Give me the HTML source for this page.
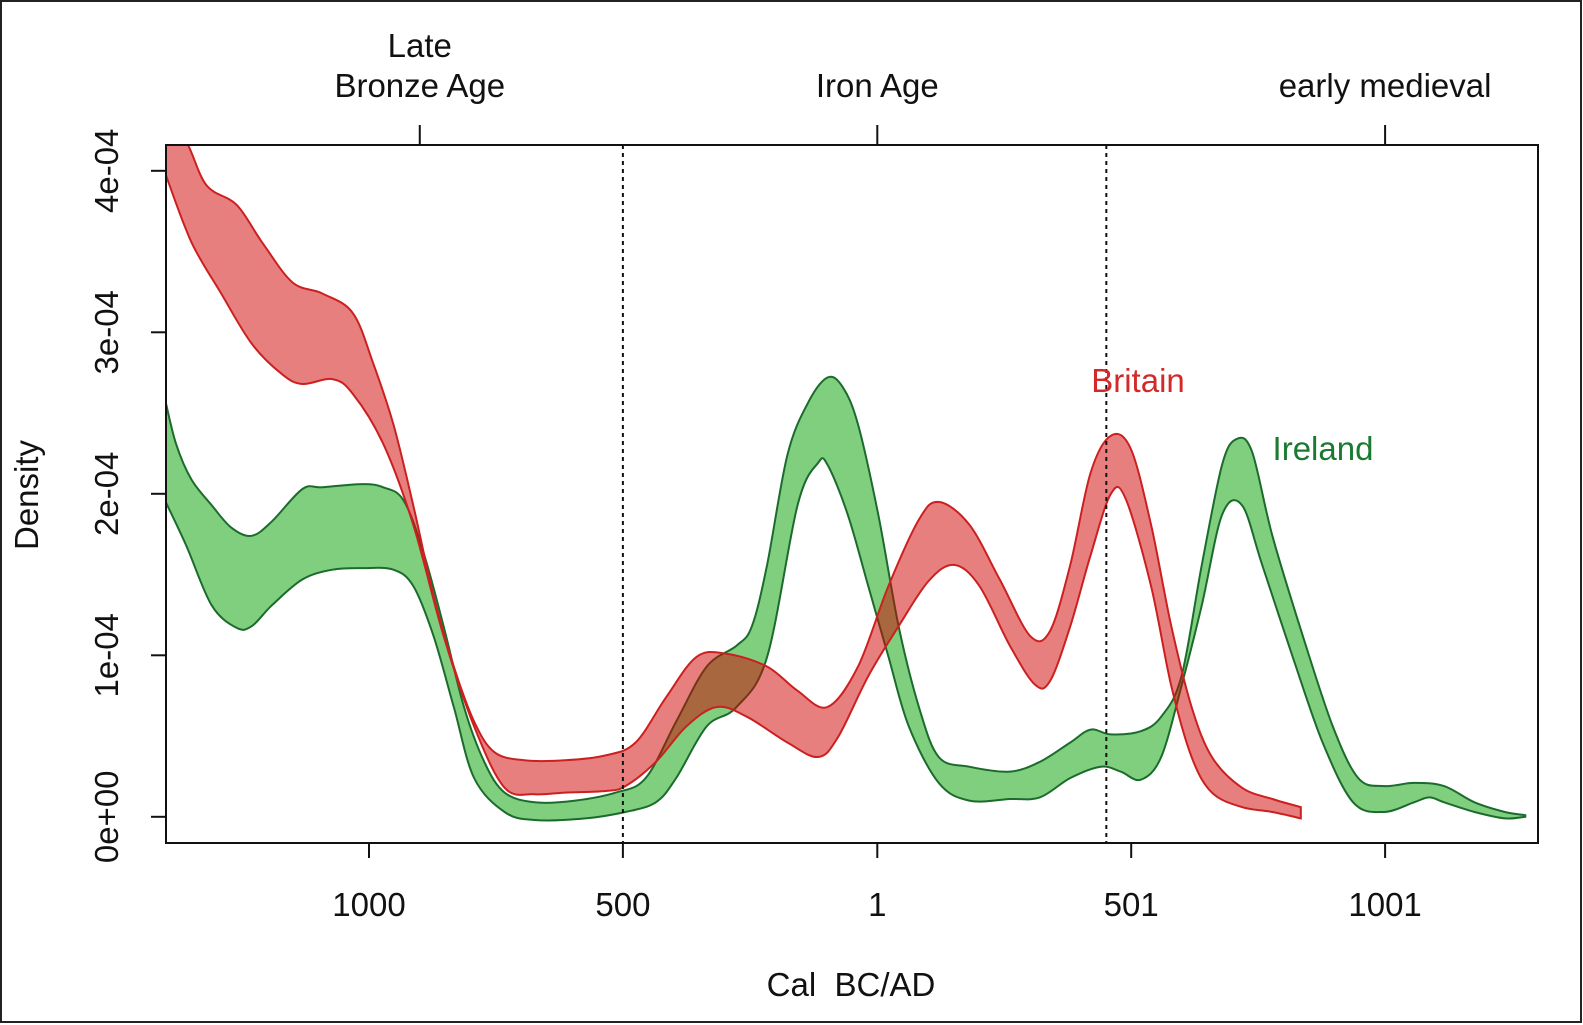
<!DOCTYPE html>
<html><head><meta charset="utf-8"><style>
html,body{margin:0;padding:0;background:#fff}
svg{display:block}
text{font-family:"Liberation Sans",Arial,sans-serif;font-size:33px;fill:#111}
</style></head><body>
<svg id="chart" width="1583" height="1025" viewBox="0 0 1583 1025">
<rect x="1" y="1" width="1580" height="1021" fill="#fff" stroke="#222" stroke-width="2"/>
<defs><clipPath id="pc"><rect x="166" y="145" width="1372" height="698"/></clipPath></defs>
<g id="series" clip-path="url(#pc)"></g>
<g id="axes"></g>
</svg>
<script>
// data (years: negative = BC; density in units of 1e-4)
const britainUpperYears=[-1402,-1360,-1320,-1261,-1211,-1151,-1092,-1032,-992,-952,-913,-873,-833,-793,-753,-694,-614,-534,-475,-415,-355,-296,-216,-156,-97,-37,23,83,122,182,242,302,341,381,421,461,500,540,580,620,660,719,779,835];
const britainUpper=[4.31,4.18,3.91,3.79,3.56,3.31,3.24,3.12,2.81,2.43,1.93,1.37,0.93,0.59,0.40,0.35,0.35,0.38,0.46,0.74,0.99,1.01,0.93,0.78,0.68,0.93,1.43,1.84,1.95,1.81,1.47,1.12,1.15,1.56,2.13,2.36,2.28,1.81,1.18,0.68,0.37,0.18,0.11,0.06];
const britainLowerYears=[-1402,-1350,-1291,-1231,-1171,-1131,-1072,-1032,-972,-913,-853,-793,-733,-674,-614,-534,-495,-435,-375,-315,-256,-176,-116,-77,-17,43,102,152,202,262,311,341,381,421,461,490,540,580,620,660,719,779,835];
const britainLower=[3.99,3.56,3.24,2.93,2.74,2.68,2.71,2.62,2.31,1.81,1.12,0.56,0.18,0.14,0.15,0.16,0.19,0.34,0.56,0.68,0.62,0.46,0.37,0.49,0.87,1.18,1.46,1.56,1.43,1.06,0.82,0.84,1.18,1.62,2.0,1.97,1.43,0.81,0.37,0.15,0.06,0.03,-0.01];
const irelandUpperYears=[-1402,-1380,-1350,-1310,-1271,-1231,-1191,-1131,-1092,-1012,-972,-932,-893,-853,-813,-773,-733,-674,-594,-514,-455,-395,-335,-276,-246,-216,-176,-136,-97,-67,-37,3,43,83,122,182,262,321,381,421,461,520,560,600,640,680,709,739,779,839,898,948,998,1058,1117,1177,1237,1277];
const irelandUpper=[2.59,2.31,2.09,1.93,1.79,1.74,1.83,2.03,2.04,2.06,2.04,1.96,1.64,1.18,0.68,0.34,0.15,0.09,0.10,0.15,0.24,0.59,0.93,1.06,1.18,1.56,2.24,2.56,2.72,2.66,2.43,1.87,1.18,0.68,0.37,0.31,0.28,0.34,0.46,0.54,0.51,0.53,0.62,0.87,1.56,2.18,2.34,2.26,1.74,1.12,0.56,0.24,0.19,0.21,0.19,0.09,0.03,0.01];
const irelandLowerYears=[-1402,-1360,-1310,-1261,-1231,-1191,-1131,-1072,-1012,-952,-913,-873,-833,-793,-733,-674,-574,-495,-435,-395,-335,-276,-216,-156,-116,-97,-57,-17,23,63,122,182,262,321,381,441,480,520,560,600,640,680,719,759,819,878,938,998,1058,1088,1117,1177,1237,1277];
const irelandLower=[1.96,1.68,1.31,1.17,1.18,1.31,1.47,1.53,1.54,1.53,1.43,1.12,0.68,0.24,0.03,-0.02,-0.01,0.03,0.09,0.24,0.56,0.68,0.99,1.93,2.19,2.18,1.87,1.43,0.99,0.56,0.21,0.10,0.11,0.12,0.24,0.31,0.28,0.23,0.37,0.81,1.31,1.87,1.93,1.56,0.99,0.46,0.09,0.03,0.09,0.12,0.09,0.03,-0.01,0.0];
const xTickYears=[-1000,-500,1,501,1001];
const xTickLabels=["1000","500","1","501","1001"];
const yTicks=[0,1,2,3,4];
const yTickLabels=["0e+00","1e-04","2e-04","3e-04","4e-04"];
const periodYears=[-900,1,1001];
const periodLabels=[["Late","Bronze Age"],["Iron Age"],["early medieval"]];
const boundaryYears=[-500,452];

const X=y=>877.3+(y-1)*0.5078;
const Y=d=>816.8-d*161.5;
const NS="http://www.w3.org/2000/svg";
function mk(tag,parent){const e=document.createElementNS(NS,tag);parent.appendChild(e);return e;}
function spline(pts){
  let d="";
  for(let i=0;i<pts.length;i++){
    const p=pts[i];
    if(i===0){d+="M"+p[0].toFixed(1)+","+p[1].toFixed(1);continue;}
    const p0=pts[Math.max(0,i-2)],p1=pts[i-1],p3=pts[Math.min(pts.length-1,i+1)];
    const c1=[p1[0]+(p[0]-p0[0])/6,p1[1]+(p[1]-p0[1])/6];
    const c2=[p[0]-(p3[0]-p1[0])/6,p[1]-(p3[1]-p1[1])/6];
    d+="C"+c1[0].toFixed(1)+","+c1[1].toFixed(1)+" "+c2[0].toFixed(1)+","+c2[1].toFixed(1)+" "+p[0].toFixed(1)+","+p[1].toFixed(1);
  }
  return d;
}
const sg=document.getElementById("series"), ax=document.getElementById("axes");
function band(uy,u,ly,l,fill,stroke,name){
  const up=uy.map((y,i)=>[X(y),Y(u[i])]);
  const lo=ly.map((y,i)=>[X(y),Y(l[i])]).reverse();
  const p=mk("path",sg);
  p.setAttribute("d",spline(up)+"L"+spline(lo).slice(1)+"Z");
  p.setAttribute("fill",fill);p.setAttribute("stroke",stroke);p.setAttribute("stroke-width","2");
  
  
}
band(irelandUpperYears,irelandUpper,irelandLowerYears,irelandLower,"rgba(0,160,0,0.5)","#1b6b2c","ireland-band");
band(britainUpperYears,britainUpper,britainLowerYears,britainLower,"rgba(210,0,0,0.5)","#cc2020","britain-band");
boundaryYears.forEach(y=>{
  const l=mk("line",sg);
  l.setAttribute("x1",X(y));l.setAttribute("x2",X(y));l.setAttribute("y1",145);l.setAttribute("y2",843);
  l.setAttribute("stroke","#111");l.setAttribute("stroke-width","2");l.setAttribute("stroke-dasharray","4,4");
  
  
});
const box=mk("rect",ax);
box.setAttribute("x",166);box.setAttribute("y",145);box.setAttribute("width",1372);box.setAttribute("height",698);
box.setAttribute("fill","none");box.setAttribute("stroke","#111");box.setAttribute("stroke-width","2");


xTickYears.forEach((y,i)=>{
  const l=mk("line",ax);l.setAttribute("x1",X(y));l.setAttribute("x2",X(y));l.setAttribute("y1",843);l.setAttribute("y2",858);l.setAttribute("stroke","#111");l.setAttribute("stroke-width","2");
  
  
  const t=mk("text",ax);t.setAttribute("x",X(y));t.setAttribute("y",916);t.setAttribute("text-anchor","middle");t.textContent=xTickLabels[i];
  
  
});
yTicks.forEach((d,i)=>{
  const l=mk("line",ax);l.setAttribute("x1",151);l.setAttribute("x2",166);l.setAttribute("y1",Y(d));l.setAttribute("y2",Y(d));l.setAttribute("stroke","#111");l.setAttribute("stroke-width","2");
  
  
  const t=mk("text",ax);t.setAttribute("transform","translate(118,"+Y(d)+") rotate(-90)");t.setAttribute("text-anchor","middle");t.textContent=yTickLabels[i];
  
  
});
periodYears.forEach((y,i)=>{
  const l=mk("line",ax);l.setAttribute("x1",X(y));l.setAttribute("x2",X(y));l.setAttribute("y1",125);l.setAttribute("y2",145);l.setAttribute("stroke","#111");l.setAttribute("stroke-width","2");
  
  
  const lines=periodLabels[i];
  lines.forEach((s,j)=>{
    const t=mk("text",ax);t.setAttribute("x",X(y));t.setAttribute("y",97-(lines.length-1-j)*40);t.setAttribute("text-anchor","middle");t.textContent=s;
    
    
  });
});
</script>
<script>
const s=document.getElementById("chart");
function lab(txt,x,y,attrs,name){const t=document.createElementNS("http://www.w3.org/2000/svg","text");t.textContent=txt;t.setAttribute("x",x);t.setAttribute("y",y);for(const k in attrs)t.setAttribute(k,attrs[k]);s.appendChild(t);
  
  }
lab("Cal\u00a0 BC/AD",851,996,{"text-anchor":"middle"},"x-axis-title");
lab("Density",0,0,{"text-anchor":"middle","transform":"translate(38,495) rotate(-90)"},"y-axis-title");
lab("Britain",1138,392,{"text-anchor":"middle","style":"fill:#d22a2a"},"britain-label");
lab("Ireland",1323,460,{"text-anchor":"middle","style":"fill:#1b7a32"},"ireland-label");
</script>
</body></html>
